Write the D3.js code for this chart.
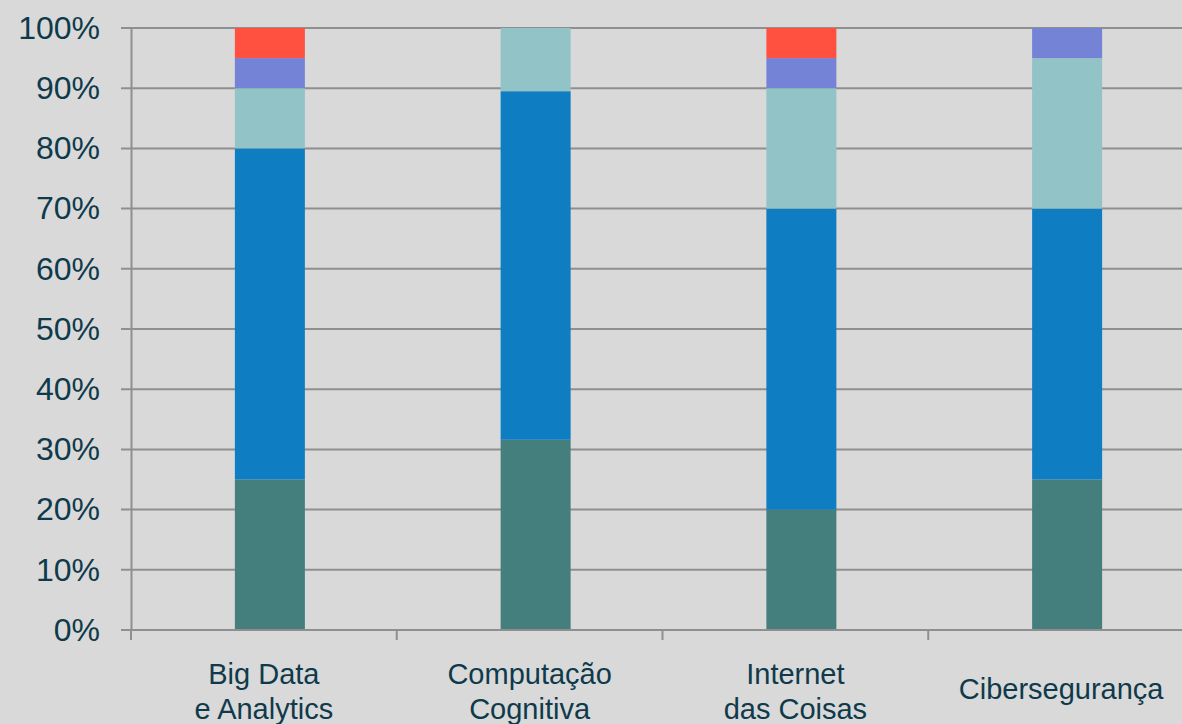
<!DOCTYPE html>
<html><head><meta charset="utf-8">
<script src="https://cdn.jsdelivr.net/npm/d3@7"></script>
<style>html,body{margin:0;padding:0;background:#d9d9d9;overflow:hidden}</style>
</head><body>
<svg id="chart" width="1182" height="724"></svg>
<script>
const categories = [["Big Data","e Analytics"],["Computação","Cognitiva"],["Internet","das Coisas"],["Cibersegurança"]];
const seriesNames = ["Série 1","Série 2","Série 3","Série 4","Série 5"];
const serie1 = [25, 31.6, 20, 25];
const serie2 = [55, 57.9, 50, 45];
const serie3 = [10, 10.5, 20, 25];
const serie4 = [5, 0, 5, 5];
const serie5 = [5, 0, 5, 0];
const yTicks = [0,10,20,30,40,50,60,70,80,90,100];
const colors = ["#447f7e","#0f7dc2","#92c3c6","#7483d6","#ff5040"];

(function(){
const seriesVals = [serie1, serie2, serie3, serie4, serie5];
const rows = categories.map((c,i)=>{
  const r = {key: i};
  seriesNames.forEach((s,j)=> r[s] = seriesVals[j][i]);
  return r;
});

const svg = d3.select("#chart");
const W = 1182, H = 724;
svg.append("rect").attr("width",W).attr("height",H).attr("fill","#d9d9d9");

const mLeft = 131, mRight = 1194, mTop = 28, mBottom = 630;
const x = d3.scaleBand().domain(categories.map((c,i)=>i)).range([mLeft,mRight]).paddingInner(0).paddingOuter(0);
const y = d3.scaleLinear().domain([0,100]).range([mBottom,mTop]);

const textColor = "#0f3a4b";
const gridColor = "#8f8f8f";

svg.append("g").selectAll("line").data(yTicks).join("line")
  .attr("x1", mLeft-10).attr("x2", W).attr("y1", d=>y(d)).attr("y2", d=>y(d))
  .attr("stroke", gridColor).attr("stroke-width", 2);

const yAxis = d3.axisLeft(y).tickValues(yTicks).tickFormat(d=>d+"%").tickSize(0).tickPadding(31);
const gy = svg.append("g").attr("transform",`translate(${mLeft},0)`).call(yAxis);
gy.select(".domain").attr("stroke",gridColor).attr("stroke-width",2);
gy.selectAll("text").attr("fill",textColor).style("font-family","Liberation Sans, Arial, sans-serif").style("font-size","32px");

const stacked = d3.stack().keys(seriesNames)(rows);
const barW = 70;
svg.append("g").selectAll("g").data(stacked).join("g")
  .attr("fill",(d,i)=>colors[i])
  .selectAll("rect").data(d=>d).join("rect")
  .attr("x", d=> x(d.data.key) + x.bandwidth()/2 - barW/2 + 6)
  .attr("width", barW)
  .attr("y", d=> y(d[1]))
  .attr("height", d=> Math.max(0, y(d[0]) - y(d[1])));

svg.append("line").attr("x1",mLeft-10).attr("x2",W).attr("y1",mBottom).attr("y2",mBottom)
  .attr("stroke",gridColor).attr("stroke-width",2);
const sepTicks = d3.range(categories.length+1).map(i=> mLeft + i*x.step());
svg.append("g").selectAll("line").data(sepTicks).join("line")
  .attr("x1",d=>d).attr("x2",d=>d).attr("y1",mBottom).attr("y2",mBottom+10)
  .attr("stroke",gridColor).attr("stroke-width",2);

const lbl = svg.append("g").selectAll("text").data(categories).join("text")
  .attr("text-anchor","middle")
  .attr("fill",textColor)
  .style("font-family","Liberation Sans, Arial, sans-serif")
  .style("font-size","29px")
  .attr("transform",(d,i)=>`translate(${x(i)+x.bandwidth()/2},0)`);
lbl.each(function(d){
  const t = d3.select(this);
  const base = d.length===1 ? 699 : 684;
  d.forEach((line,k)=> t.append("tspan").attr("x",0).attr("y", base + k*35).text(line));
});
})();
</script>
</body></html>
